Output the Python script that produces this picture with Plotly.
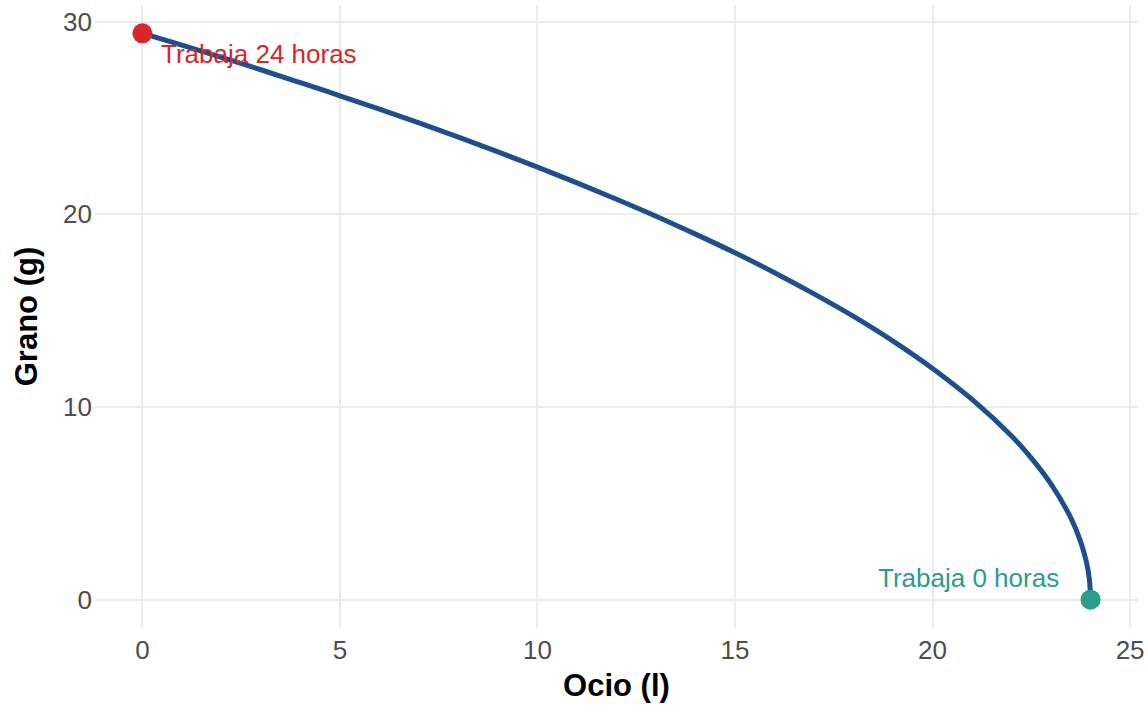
import plotly.graph_objects as go

# Ocio (l) and Grano (g)
ocio = [0, 1, 2, 3, 4, 5, 6, 7, 8, 9, 10, 11, 12, 13, 14, 15, 16, 17, 18, 19, 20,
        21, 22, 22.5, 23, 23.5, 23.75, 23.9, 23.97, 24]
grano = [29.39, 28.78, 28.14, 27.50, 26.83, 26.15, 25.46, 24.74, 24.00, 23.24, 22.45,
         21.63, 20.78, 19.90, 18.97, 18.00, 16.97, 15.87, 14.70, 13.42, 12.00,
         10.39, 8.49, 7.35, 6.00, 4.24, 3.00, 1.90, 1.04, 0.0]

x_ticks = [0, 5, 10, 15, 20, 25]
y_ticks = [0, 10, 20, 30]

start_label = "Trabaja 24 horas"
end_label = "Trabaja 0 horas"

line_color = "#1f4e8c"
red = "#d7262b"
green = "#2a9d8f"
FONT = "Liberation Sans, Arial, sans-serif"

fig = go.Figure()
fig.add_trace(go.Scatter(x=ocio, y=grano, mode="lines",
                         line=dict(color=line_color, width=5, shape="spline"),
                         hoverinfo="skip", showlegend=False))
fig.add_trace(go.Scatter(x=[ocio[0]], y=[grano[0]], mode="markers",
                         marker=dict(color=red, size=20), showlegend=False))
fig.add_trace(go.Scatter(x=[ocio[-1]], y=[grano[-1]], mode="markers",
                         marker=dict(color=green, size=20), showlegend=False))

fig.add_annotation(x=ocio[0], y=grano[0], text=start_label, showarrow=False,
                   xanchor="left", yanchor="middle", xshift=17, yshift=-21,
                   font=dict(color=red, size=26, family=FONT))
fig.add_annotation(x=ocio[-1], y=grano[-1], text=end_label, showarrow=False,
                   xanchor="right", yanchor="middle", xshift=-30, yshift=22,
                   font=dict(color=green, size=26, family=FONT))

axis_common = dict(showgrid=True, gridcolor="#ebebeb", gridwidth=2.2, zeroline=False,
                   showline=False, ticks="", tickfont=dict(size=26, color="#4d4d4d", family=FONT))

fig.update_xaxes(range=[-1.2, 25.2], tickvals=x_ticks, ticklabelstandoff=4,
                 title=dict(text="<b>Ocio (l)</b>", font=dict(size=31, color="black", family=FONT), standoff=10),
                 **axis_common)
fig.update_yaxes(range=[-1.47, 30.86], tickvals=y_ticks, ticklabelstandoff=2,
                 title=dict(text="<b>Grano (g)</b>", font=dict(size=31, color="black", family=FONT), standoff=16),
                 **axis_common)

fig.update_layout(width=1148, height=706, plot_bgcolor="white", paper_bgcolor="white",
                  margin=dict(l=95, r=10, t=5, b=78, autoexpand=False),
                  font=dict(family=FONT))

fig.write_html("out.html", config={"displayModeBar": False},
               post_script="document.body.style.margin='0';")
